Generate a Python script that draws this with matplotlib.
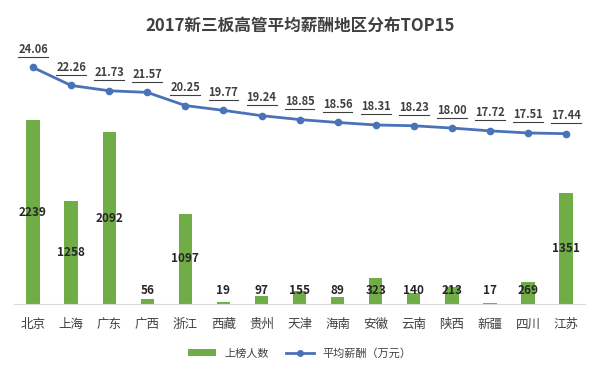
import matplotlib
matplotlib.use('Agg')
import matplotlib.pyplot as plt
from matplotlib.lines import Line2D
from matplotlib.patches import Patch
import numpy as np

# 中文字体
plt.rcParams['font.family'] = ['Noto Sans CJK SC', 'DejaVu Sans']
plt.rcParams['axes.unicode_minus'] = False

# 数据
regions = ['北京', '上海', '广东', '广西', '浙江', '西藏', '贵州', '天津',
           '海南', '安徽', '云南', '陕西', '新疆', '四川', '江苏']
counts = [2239, 1258, 2092, 56, 1097, 19, 97, 155, 89, 323, 140, 213, 17, 269, 1351]
salary = [24.06, 22.26, 21.73, 21.57, 20.25, 19.77, 19.24, 18.85, 18.56,
          18.31, 18.23, 18.00, 17.72, 17.51, 17.44]

bar_color = '#70AD47'
line_color = '#4A72B8'

fig = plt.figure(figsize=(6, 3.74), dpi=100)
ax = fig.add_axes([0.0233, 0.187, 0.952, 0.6925])
x = np.arange(len(regions))

ax.bar(x, counts, width=0.35, color=bar_color, zorder=2)
ax.set_ylim(0, 3150)
ax.set_xlim(-0.5, len(regions) - 0.5)
for s in ['top', 'right', 'left']:
    ax.spines[s].set_visible(False)
ax.spines['bottom'].set_color('#D9D9D9')
ax.set_yticks([])
ax.set_xticks(x)
ax.set_xticklabels(regions, fontsize=9, color='#404040')
ax.tick_params(axis='x', length=0, pad=10)

# 柱子标签：居中，太矮的放在柱顶附近
for xi, v in zip(x, counts):
    ax.text(xi, max(v / 2, 170), str(v), ha='center', va='center',
            fontsize=8.5, fontweight='bold', color='#262626', zorder=4)

ax2 = ax.twinx()
ax2.plot(x, salary, color=line_color, lw=2, marker='o', ms=4.5, zorder=3)
ax2.set_ylim(0.4, 26.3)
ax2.axis('off')

labels = []
for xi, v in zip(x, salary):
    t = ax2.annotate(f'{v:.2f}', (xi, v), xytext=(0, 13), textcoords='offset points',
                     ha='center', va='center', fontsize=8, fontweight='bold',
                     color='#404040')
    labels.append(t)

fig.suptitle('2017新三板高管平均薪酬地区分布TOP15', y=0.955, fontsize=12,
             fontweight='bold', color='#404040')

handles = [Patch(facecolor=bar_color, label='上榜人数'),
           Line2D([0], [0], color=line_color, lw=2, marker='o', ms=4, label='平均薪酬（万元）')]
fig.legend(handles=handles, loc='lower center', bbox_to_anchor=(0.5, 0.015), ncol=2,
           frameon=False, fontsize=8, handlelength=2.5, columnspacing=1.5,
           labelcolor='#404040')

# 给折线标签加下划线
fig.canvas.draw()
r = fig.canvas.get_renderer()
inv = fig.transFigure.inverted()
for t in labels:
    bb = t.get_window_extent(r)
    (x0, y0), (x1, _) = inv.transform([(bb.x0, bb.y0 - 1), (bb.x1, bb.y0 - 1)])
    fig.add_artist(Line2D([x0, x1], [y0, y0], color='#404040', lw=0.8))

fig.savefig('out.png', dpi=100, facecolor='white')
